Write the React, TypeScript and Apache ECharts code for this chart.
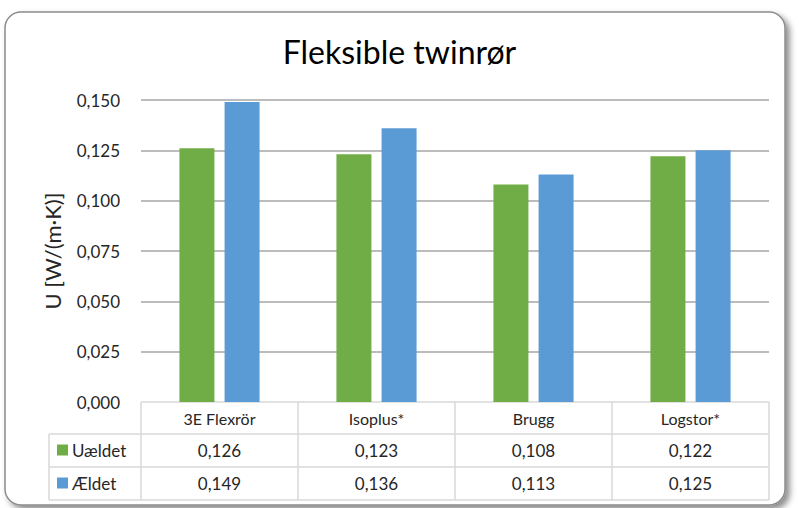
import React, { useEffect, useRef } from "react";
import * as echarts from "echarts";

const title = "Fleksible twinrør";
const yAxisName = "U [W/(m·K)]";
const categories = ["3E Flexrör", "Isoplus*", "Brugg", "Logstor*"];
const seriesNames = ["Uældet", "Ældet"];
const uaeldet = [0.126, 0.123, 0.108, 0.122];
const aeldet = [0.149, 0.136, 0.113, 0.125];
const seriesColors = ["#70ad47", "#5b9bd5"];

const W = 799;
const H = 508;
const GL = 141;
const GR = 769;
const GT = 100;
const GB = 402;
const TABLE_LEFT = 49;
const ROW_BOTTOMS = [434, 467, 500];
const FONT = "Lato, 'Open Sans', sans-serif";

const fmt = (v: number) => v.toFixed(3).replace(".", ",");

export default function App() {
  const ref = useRef<HTMLDivElement>(null);
  useEffect(() => {
    if (!ref.current) return;
    const chart = echarts.init(ref.current, undefined, { renderer: "svg" });
    const data = [uaeldet, aeldet];
    const colW = (GR - GL) / categories.length;
    const lineColor = "#d9d9d9";
    const g: any[] = [];
    g.push({
      type: "rect",
      shape: { x: 5, y: 12, width: 780, height: 493, r: 16 },
      style: {
        fill: "#fff",
        stroke: "#8c8c8c",
        lineWidth: 1.5,
        shadowBlur: 6,
        shadowOffsetX: 4,
        shadowOffsetY: 4,
        shadowColor: "rgba(0,0,0,0.45)",
      },
      z: -10,
    });
    const ls = { stroke: lineColor, lineWidth: 1.5 };
    g.push({ type: "line", shape: { x1: GL, y1: GB, x2: GR, y2: GB }, style: ls });
    ROW_BOTTOMS.forEach((y) =>
      g.push({ type: "line", shape: { x1: TABLE_LEFT, y1: y, x2: GR, y2: y }, style: ls })
    );
    for (let i = 0; i <= categories.length; i++) {
      const x = GL + i * colW;
      g.push({ type: "line", shape: { x1: x, y1: GB, x2: x, y2: ROW_BOTTOMS[2] }, style: ls });
    }
    g.push({
      type: "line",
      shape: { x1: TABLE_LEFT, y1: ROW_BOTTOMS[0], x2: TABLE_LEFT, y2: ROW_BOTTOMS[2] },
      style: ls,
    });
    categories.forEach((c, i) => {
      g.push({
        type: "text",
        x: GL + (i + 0.5) * colW,
        y: (GB + ROW_BOTTOMS[0]) / 2,
        style: {
          text: c,
          fill: "#262626",
          font: `16px ${FONT}`,
          align: "center",
          verticalAlign: "middle",
        },
      });
    });
    seriesNames.forEach((s, r) => {
      const top = ROW_BOTTOMS[r];
      const bot = ROW_BOTTOMS[r + 1];
      const cy = (top + bot) / 2;
      g.push({
        type: "rect",
        shape: { x: 57, y: cy - 6, width: 11, height: 11 },
        style: { fill: seriesColors[r] },
      });
      g.push({
        type: "text",
        x: 72,
        y: cy,
        style: {
          text: s,
          fill: "#262626",
          font: `17px ${FONT}`,
          align: "left",
          verticalAlign: "middle",
        },
      });
      data[r].forEach((v, i) => {
        g.push({
          type: "text",
          x: GL + (i + 0.5) * colW,
          y: cy,
          style: {
            text: fmt(v),
            fill: "#262626",
            font: `17px ${FONT}`,
            align: "center",
            verticalAlign: "middle",
          },
        });
      });
    });

    chart.setOption({
      animation: false,
      backgroundColor: "transparent",
      title: {
        text: title,
        left: "center",
        top: 30,
        textStyle: { fontFamily: FONT, fontSize: 32, fontWeight: "normal", color: "#000" },
      },
      grid: { left: GL, right: W - GR, top: GT, bottom: H - GB, containLabel: false },
      xAxis: {
        type: "category",
        data: categories,
        axisLine: { show: false },
        axisTick: { show: false },
        axisLabel: { show: false },
      },
      yAxis: {
        type: "value",
        min: 0,
        max: 0.15,
        interval: 0.025,
        name: yAxisName,
        nameLocation: "middle",
        nameGap: 78,
        nameTextStyle: { fontFamily: FONT, fontSize: 22, color: "#262626" },
        axisLine: { show: false },
        axisTick: { show: false },
        axisLabel: {
          formatter: (v: number) => fmt(v),
          fontFamily: FONT,
          fontSize: 17,
          color: "#262626",
          margin: 21,
        },
        splitLine: {
          lineStyle: { color: "#a6a6a6", width: 1.5 },
          showMinLine: false,
        },
      },
      series: seriesNames.map((n, i) => ({
        name: n,
        type: "bar",
        data: data[i],
        barWidth: 35,
        barGap: "29%",
        itemStyle: { color: seriesColors[i] },
      })),
      graphic: g,
    });
    return () => chart.dispose();
  }, []);
  return (
    <div
      ref={ref}
      style={{ position: "absolute", left: 0, top: 0, width: W, height: H }}
    />
  );
}
